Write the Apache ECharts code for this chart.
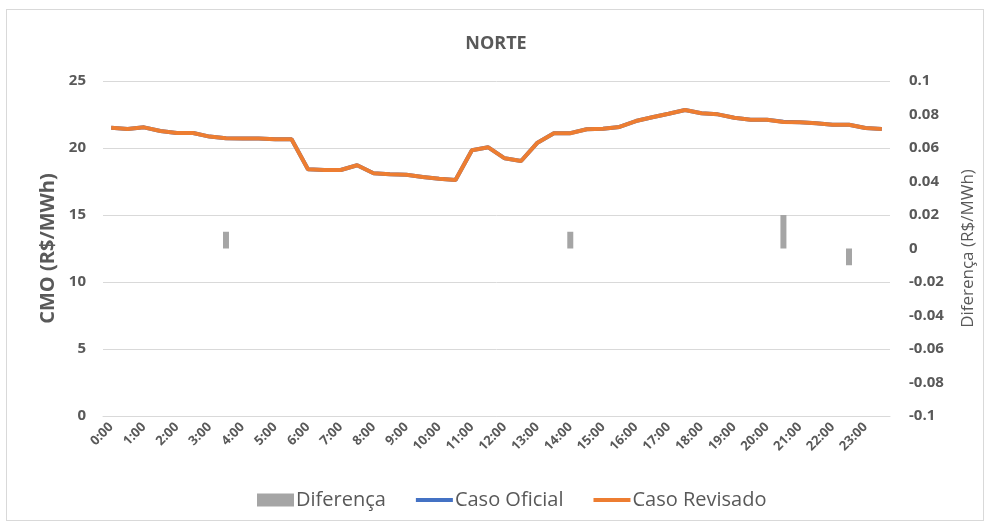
<!DOCTYPE html>
<html><head><meta charset="utf-8">
<script src="https://cdn.jsdelivr.net/npm/echarts@6/dist/echarts.min.js"></script>
<style>html,body{margin:0;padding:0;background:#fff}#wrap{position:absolute;left:6px;top:9px;width:978px;height:512px;border:1px solid #d9d9d9;box-sizing:border-box}#c{position:absolute;left:0;top:0;width:992px;height:525px}</style>
</head><body><div id="wrap"></div><div id="c"></div>
<script>
const categories = ["0:00","0:30","1:00","1:30","2:00","2:30","3:00","3:30","4:00","4:30","5:00","5:30","6:00","6:30","7:00","7:30","8:00","8:30","9:00","9:30","10:00","10:30","11:00","11:30","12:00","12:30","13:00","13:30","14:00","14:30","15:00","15:30","16:00","16:30","17:00","17:30","18:00","18:30","19:00","19:30","20:00","20:30","21:00","21:30","22:00","22:30","23:00","23:30"];
const casoRevisado = [21.51,21.42,21.54,21.27,21.12,21.12,20.85,20.72,20.70,20.70,20.65,20.65,18.41,18.36,18.36,18.71,18.11,18.04,18.00,17.84,17.71,17.61,19.83,20.05,19.23,19.03,20.40,21.10,21.10,21.40,21.44,21.57,22.01,22.29,22.56,22.84,22.59,22.51,22.26,22.11,22.11,21.94,21.92,21.84,21.74,21.74,21.49,21.42];
const casoOficial = [21.51,21.42,21.54,21.27,21.12,21.12,20.85,20.73,20.70,20.70,20.65,20.65,18.41,18.36,18.36,18.71,18.11,18.04,18.00,17.84,17.71,17.61,19.83,20.05,19.23,19.03,20.40,21.10,21.11,21.40,21.44,21.57,22.01,22.29,22.56,22.84,22.59,22.51,22.26,22.11,22.11,21.96,21.92,21.84,21.74,21.73,21.49,21.42];
const diferenca = [null,null,null,null,null,null,null,0.01,null,null,null,null,null,null,null,null,null,null,null,null,null,null,null,null,null,null,null,null,0.01,null,null,null,null,null,null,null,null,null,null,null,null,0.02,null,null,null,-0.01,null,null];

const font = "'Open Sans', 'Liberation Sans', sans-serif";
const chart = echarts.init(document.getElementById('c'));
chart.setOption({
  animation: false,
  textStyle: {fontFamily: font},
  title: {text: 'NORTE', left: 'center', top: 30, textStyle: {fontFamily: font, fontSize: 18, fontWeight: 'bold', color: '#595959'}},
  legend: {bottom: 10, left: 252, itemGap: 30, itemWidth: 37, itemHeight: 13,
    textStyle: {fontFamily: font, fontSize: 20, color: '#595959', padding: [0, 0, 0, -3]},
    data: [
      {name: 'Diferença', icon: 'rect'},
      {name: 'Caso Oficial', icon: 'path://M0,0 H37 V4 H0 Z', itemStyle: {color: '#4472C4'}},
      {name: 'Caso Revisado', icon: 'path://M0,0 H37 V4 H0 Z', itemStyle: {color: '#ED7D31'}}
    ]},
  grid: {left: 103, right: 102, top: 81, bottom: 109},
  xAxis: {type: 'category', data: categories, boundaryGap: true,
    axisLine: {show: true, lineStyle: {color: '#d9d9d9'}}, axisTick: {show: false},
    axisLabel: {interval: 1, rotate: 45, fontSize: 13, fontWeight: 'bold', color: '#595959', fontFamily: font, margin: 9}},
  yAxis: [
    {type: 'value', min: 0, max: 25, interval: 5, position: 'left',
      name: 'CMO (R$/MWh)', nameLocation: 'middle', nameGap: 45, nameRotate: 90,
      nameTextStyle: {fontFamily: font, fontSize: 20, fontWeight: 'bold', color: '#595959'},
      axisLine: {show: false}, axisTick: {show: false},
      axisLabel: {fontSize: 15, fontWeight: 'bold', color: '#595959', margin: 17},
      splitLine: {lineStyle: {color: '#d9d9d9', width: 1}}},
    {type: 'value', min: -0.1, max: 0.1, interval: 0.02, position: 'right',
      name: 'Diferença (R$/MWh)', nameLocation: 'middle', nameGap: 70, nameRotate: 90,
      nameTextStyle: {fontFamily: font, fontSize: 17, color: '#595959'},
      axisLine: {show: false}, axisTick: {show: false},
      axisLabel: {fontSize: 15, fontWeight: 'bold', color: '#595959', margin: 19,
        formatter: v => String(Math.round(v * 100) / 100)},
      splitLine: {show: false}}
  ],
  series: [
    {name: 'Diferença', type: 'bar', yAxisIndex: 1, data: diferenca, barWidth: 6, itemStyle: {color: '#A5A5A5'}},
    {name: 'Caso Oficial', type: 'line', data: casoOficial, symbol: 'none', lineStyle: {color: '#4472C4', width: 4}, itemStyle: {color: '#4472C4'}},
    {name: 'Caso Revisado', type: 'line', data: casoRevisado, symbol: 'none', lineStyle: {color: '#ED7D31', width: 4}, itemStyle: {color: '#ED7D31'}}
  ]
});
</script>
</body></html>
